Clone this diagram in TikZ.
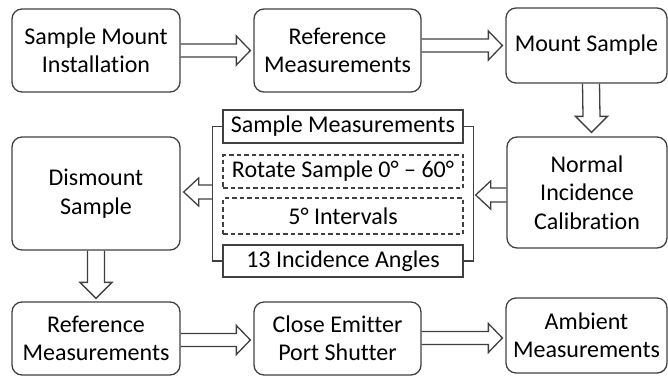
\documentclass[tikz,border=0pt]{standalone}
\usepackage{fontspec}
\setmainfont{Carlito}[Ligatures=NoCommon]
\usetikzlibrary{calc}
\definecolor{edge}{HTML}{404040}
\tikzset{
  box/.style={draw=edge, line width=1.3pt, rounded corners=10pt, align=center, inner sep=0pt, font=\fontsize{24}{28.5}\selectfont},
  flat/.style={draw=edge, line width=1.3pt, align=center, inner sep=0pt, minimum width=240pt, font=\fontsize{24}{28.5}\selectfont},
  dashbox/.style={flat, dash pattern=on 4.5pt off 3pt},
  conn/.style={draw=edge, line width=1.3pt},
  barrow/.style={draw=edge, line width=1.3pt, line join=miter}
}
\newcommand\blockR[2]{\draw[barrow] ($(#1)+(0,-6.5)$) -- ($(#2)+(-14,-6.5)$) -- ($(#2)+(-14,-14.5)$) -- (#2) -- ($(#2)+(-14,14.5)$) -- ($(#2)+(-14,6.5)$) -- ($(#1)+(0,6.5)$);}
\newcommand\blockL[2]{\draw[barrow] ($(#1)+(0,-7)$) -- ($(#2)+(15,-7)$) -- ($(#2)+(15,-14)$) -- (#2) -- ($(#2)+(15,14)$) -- ($(#2)+(15,7)$) -- ($(#1)+(0,7)$);}
\newcommand\blockD[2]{\draw[barrow] ($(#1)+(-8.5,0)$) -- ($(#2)+(-8.5,-16)$) -- ($(#2)+(-16,-16)$) -- (#2) -- ($(#2)+(16,-16)$) -- ($(#2)+(8.5,-16)$) -- ($(#1)+(8.5,0)$);}
\begin{document}
\begin{tikzpicture}[x=1pt,y=-1pt]
\useasboundingbox (0,0) rectangle (668,377);
% rounded boxes
\node[box, minimum width=168pt, minimum height=83pt] (b1) at (96,50.5) {Sample Mount\\Installation};
\node[box, minimum width=167pt, minimum height=83pt] (b2) at (337.5,50.5) {Reference\\Measurements};
\node[box, minimum width=161pt, minimum height=75pt] (b3) at (586.5,45.5) {Mount Sample};
\node[box, minimum width=160pt, minimum height=111pt] (b4) at (587,192.5) {Normal\\Incidence\\Calibration};
\node[box, minimum width=168pt, minimum height=113pt] (b5) at (96,193.5) {Dismount\\Sample};
\node[box, minimum width=168pt, minimum height=73pt] (b6) at (96,338.5) {Reference\\Measurements};
\node[box, minimum width=167pt, minimum height=73pt] (b7) at (337.5,338.5) {Close Emitter\\Port Shutter};
\node[box, minimum width=161pt, minimum height=75pt] (b8) at (586.5,335.5) {Ambient\\Measurements};
% middle group
\node[flat, minimum height=33pt] (m1) at (343,126.5) {Sample Measurements};
\node[dashbox, minimum height=33pt] (m2) at (343,171.5) {Rotate Sample 0° – 60°};
\node[dashbox, minimum height=36pt] (m3) at (343,216) {5° Intervals};
\node[flat, minimum height=32pt] (m4) at (343,261) {13 Incidence Angles};
% brackets
\draw[conn] (m1.west) -- ++(-10,0) coordinate (lt) |- (m4.west);
\draw[conn] (m1.east) -- ++(10,0) coordinate (rt) |- (m4.east);
\coordinate (lb) at (lt |- 0,192);
\coordinate (rb) at (rt |- 0,195);
% arrows
\coordinate (t1) at ($(b2.west)+(-3,0)$);
\blockR{b1.east}{t1}
\coordinate (s2) at (b2.east |- b3.west);
\coordinate (t2) at ($(b3.west)+(-3,0)$);
\blockR{s2}{t2}
\coordinate (s3) at ($(b3.south)+(4.5,0)$);
\coordinate (t3) at ($(b4.north)+(4.5,-4)$);
\blockD{s3}{t3}
\coordinate (s4) at (b4.west |- rb);
\coordinate (t4) at ($(rb)+(2,0)$);
\blockL{s4}{t4}
\coordinate (t5) at ($(b5.east |- lb)+(3,0)$);
\blockL{lb}{t5}
\coordinate (t6) at ($(b6.north)+(0,-3)$);
\blockD{b5.south}{t6}
\coordinate (s7) at ($(b6.east)+(0,1.5)$);
\coordinate (t7) at ($(b7.west |- s7)+(-3,0)$);
\blockR{s7}{t7}
\coordinate (s8) at ($(b7.east)+(0,-0.5)$);
\coordinate (t8) at ($(b8.west |- s8)+(-3,0)$);
\blockR{s8}{t8}
\end{tikzpicture}
\end{document}
